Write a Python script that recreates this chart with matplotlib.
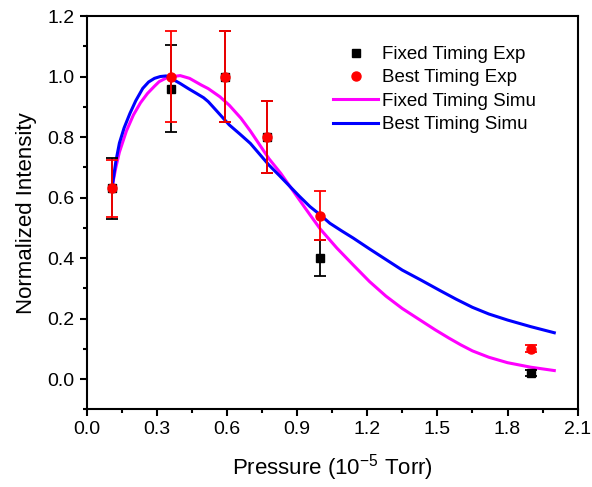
import matplotlib
matplotlib.use('Agg')
import matplotlib.pyplot as plt
from matplotlib.lines import Line2D

plt.rcParams['font.family'] = ['Liberation Sans', 'DejaVu Sans']
plt.rcParams['mathtext.default'] = 'regular'

# experimental points
pressure = [0.11, 0.36, 0.59, 0.77, 1.0, 1.9]
fixed_exp = [0.63, 0.96, 1.0, 0.8, 0.40, 0.02]
fixed_err = [0.10, 0.145, 0.15, 0.12, 0.06, 0.01]
best_exp = [0.63, 1.0, 1.0, 0.8, 0.54, 0.10]
best_err = [0.095, 0.15, 0.15, 0.12, 0.08, 0.012]

# simulated curves
fixed_sim_x = [0.11, 0.125, 0.14, 0.17, 0.20, 0.23, 0.26, 0.29, 0.31, 0.34, 0.37, 0.40,
               0.44, 0.49, 0.52, 0.57, 0.61, 0.66, 0.70, 0.74, 0.78, 0.83, 0.87, 0.91,
               0.955, 1.00, 1.07, 1.14, 1.21, 1.28, 1.35, 1.43, 1.49, 1.55, 1.60, 1.65,
               1.72, 1.80, 1.90, 2.00]
fixed_sim_y = [0.64, 0.70, 0.75, 0.82, 0.873, 0.913, 0.944, 0.968, 0.983, 0.995, 1.0, 1.003,
               0.994, 0.972, 0.96, 0.933, 0.905, 0.862, 0.82, 0.774, 0.728, 0.68, 0.636, 0.592,
               0.543, 0.495, 0.433, 0.377, 0.322, 0.274, 0.233, 0.193, 0.163, 0.135, 0.113, 0.093,
               0.072, 0.054, 0.039, 0.028]
best_sim_x = [0.11, 0.125, 0.14, 0.16, 0.185, 0.21, 0.24, 0.265, 0.29, 0.315, 0.34, 0.37,
              0.40, 0.435, 0.47, 0.50, 0.52, 0.54, 0.575, 0.61, 0.655, 0.70, 0.74, 0.78,
              0.825, 0.87, 0.91, 0.955, 1.00, 1.04, 1.09, 1.14, 1.21, 1.28, 1.35, 1.43,
              1.51, 1.58, 1.65, 1.72, 1.80, 1.90, 2.00]
best_sim_y = [0.64, 0.72, 0.78, 0.83, 0.878, 0.92, 0.961, 0.982, 0.994, 1.0, 1.002, 0.99,
              0.977, 0.96, 0.944, 0.93, 0.917, 0.9, 0.87, 0.84, 0.81, 0.779, 0.743, 0.707,
              0.672, 0.636, 0.604, 0.57, 0.542, 0.515, 0.49, 0.466, 0.43, 0.395, 0.36, 0.327,
              0.293, 0.264, 0.237, 0.215, 0.195, 0.173, 0.153]

xticks = [0.0, 0.3, 0.6, 0.9, 1.2, 1.5, 1.8, 2.1]
yticks = [0.0, 0.2, 0.4, 0.6, 0.8, 1.0, 1.2]

fig = plt.figure(figsize=(5.92, 4.87), dpi=100)
ax = fig.add_axes([0.1464, 0.1596, 0.8294, 0.8075])

ax.plot(fixed_sim_x, fixed_sim_y, color='#ff00ff', lw=2.2, zorder=2)
ax.plot(best_sim_x, best_sim_y, color='#0000ff', lw=2.2, zorder=2)
ax.errorbar(pressure, fixed_exp, yerr=fixed_err, fmt='s', color='black', ms=5.5,
            elinewidth=1.3, capsize=4, capthick=1.3, zorder=3)
ax.errorbar(pressure, best_exp, yerr=best_err, fmt='o', color='red', ms=6.5,
            elinewidth=1.3, capsize=4, capthick=1.3, zorder=4)

ax.set_xlim(0, 2.1)
ax.set_ylim(-0.1, 1.2)
ax.set_xticks(xticks)
ax.set_xticklabels(['%.1f' % v for v in xticks])
ax.set_yticks(yticks)
ax.set_yticklabels(['%.1f' % v for v in yticks])
ax.set_xticks([0.15, 0.45, 0.75, 1.05, 1.35, 1.65, 1.95], minor=True)
ax.set_yticks([-0.1, 0.1, 0.3, 0.5, 0.7, 0.9, 1.1], minor=True)

ax.tick_params(which='both', direction='out', top=False, right=False, width=1.5, labelsize=14)
ax.tick_params(which='major', length=5)
ax.tick_params(which='minor', length=3)
for s in ax.spines.values():
    s.set_linewidth(1.5)

ax.set_xlabel('Pressure (10$^{-5}$ Torr)', fontsize=16, labelpad=10)
ax.set_ylabel('Normalized Intensity', fontsize=16, labelpad=8)

handles = [
    Line2D([], [], marker='s', color='black', ls='', ms=5.5),
    Line2D([], [], marker='o', color='red', ls='', ms=6.5),
    Line2D([], [], color='#ff00ff', lw=2.2),
    Line2D([], [], color='#0000ff', lw=2.2),
]
labels = ['Fixed Timing Exp', 'Best Timing Exp', 'Fixed Timing Simu', 'Best Timing Simu']
ax.legend(handles, labels, loc='upper left', bbox_to_anchor=(333 / 592, 1 - 46 / 487),
          bbox_transform=fig.transFigure, frameon=False, fontsize=13.5,
          borderpad=0, borderaxespad=0, handletextpad=0.2, labelspacing=0.33,
          handlelength=2.4)

fig.savefig('out.png', dpi=100)
